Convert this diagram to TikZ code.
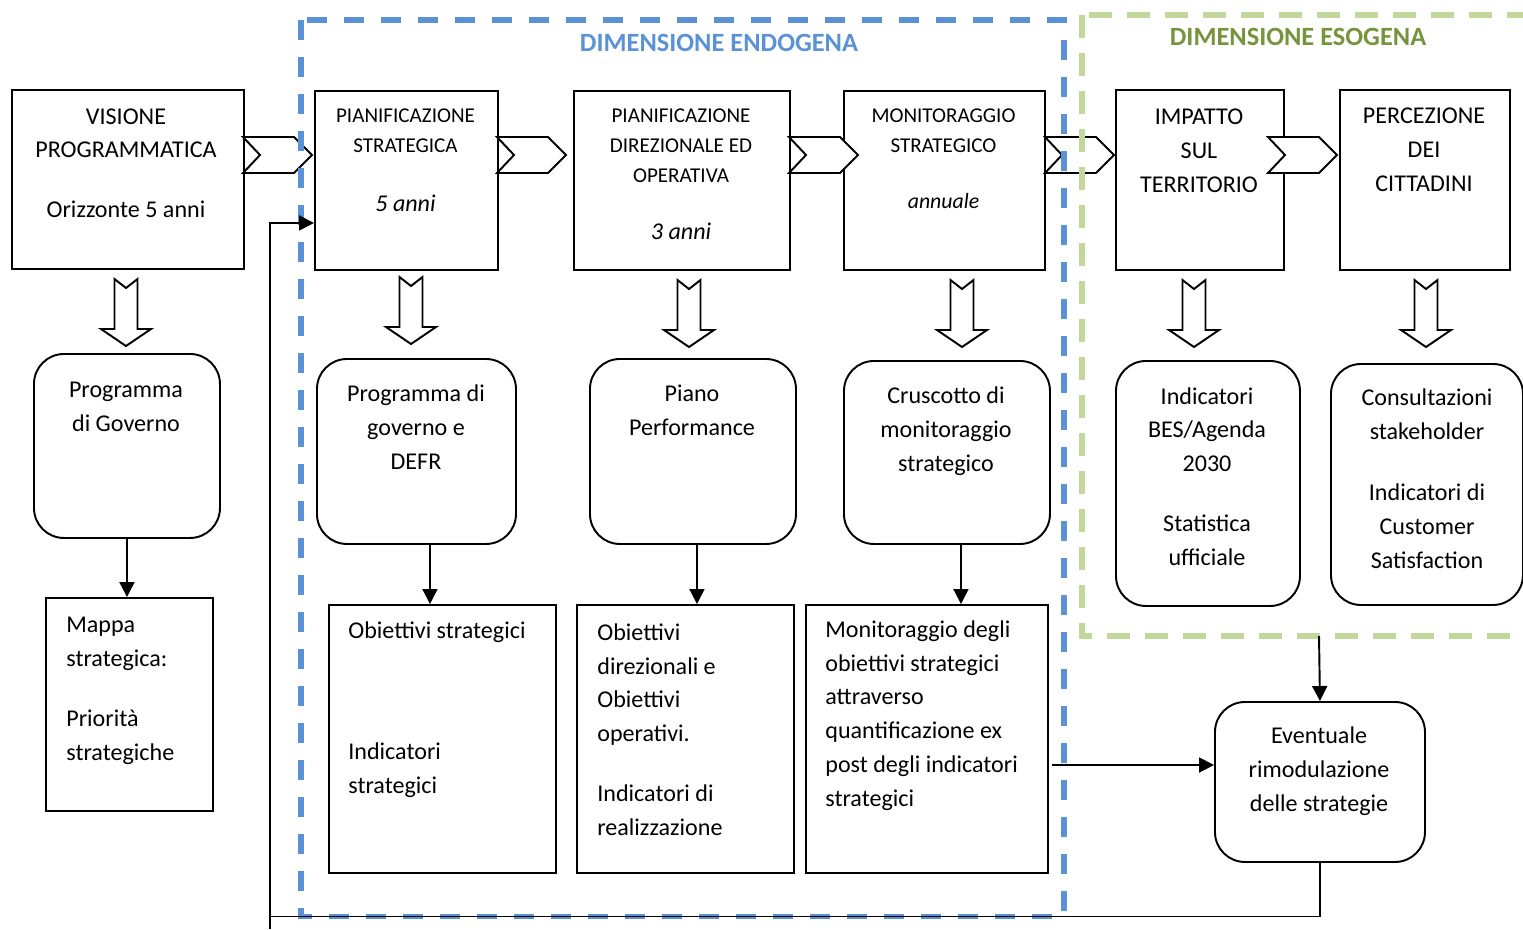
\documentclass[tikz,border=0pt]{standalone}
\usepackage{fontspec}
\setmainfont{Carlito}
\usetikzlibrary{positioning}
\usetikzlibrary{arrows.meta}

\definecolor{endoblue}{RGB}{91,146,214}
\definecolor{esogreen}{RGB}{195,214,155}
\definecolor{esotext}{RGB}{119,147,60}

\begin{document}
\begin{tikzpicture}
		[x=1cm, y=-1cm,
		box/.style={draw=black, line width=1.1pt, fill=white, anchor=north west, inner sep=0pt},
		rbox/.style={box, rounded corners=0.6cm},
		txt/.style={anchor=base, align=center, inner sep=0pt, font=\fontsize{13.7}{19.2}\selectfont},
		caps/.style={txt, font=\fontsize{12}{17}\selectfont},
		ltxt/.style={txt, anchor=base west, align=left},
		arr/.style={line width=1.1pt, -{Triangle[length=0.3cm, width=0.3cm]}},
		zone/.style={line width=2.9pt, dash pattern=on 0.4cm off 0.34cm},
		greenzone/.style={zone, dash pattern=on 0.46cm off 0.3cm},
		title/.style={anchor=base, inner sep=0pt, font=\fontsize{15}{18}\selectfont\bfseries},
		chevron/.pic={\draw[line width=1.1pt, fill=white] (0,-0.36) -- (1.02,-0.36) -- (1.38,0) -- (1.02,0.36) -- (0,0.36) -- (0.34,0) -- cycle;},
		hollowdown/.pic={\draw[line width=1.1pt, fill=white] (-0.23,0) -- (0,0.18) -- (0.23,0) -- (0.23,1.0) -- (0.5,1.0) -- (0,1.34) -- (-0.5,1.0) -- (-0.23,1.0) -- cycle;}]
		\useasboundingbox (0,0) rectangle (30.46,18.58);

		% top row
		\node[box, minimum width=4.64cm, minimum height=3.58cm] (visione) at (0.22,1.78) {};
		\node[box, minimum width=3.66cm, minimum height=3.58cm] (pstrat) at (6.28,1.80) {};
		\node[box, minimum width=4.32cm, minimum height=3.58cm] (pdir) at (11.46,1.80) {};
		\node[box, minimum width=4.02cm, minimum height=3.58cm] (mstrat) at (16.86,1.80) {};
		\node[box, minimum width=3.36cm, minimum height=3.60cm] (impatto) at (22.30,1.78) {};
		\node[box, minimum width=3.40cm, minimum height=3.60cm] (percez) at (26.78,1.78) {};

		% (base anchor = last line)
		\node[txt] (visionetxt) at (2.52,4.34) {VISIONE\\PROGRAMMATICA\\[14.4pt]Orizzonte 5 anni};
		\node[caps] (pstrattxt) at (8.11,4.22) {PIANIFICAZIONE\\STRATEGICA\\[16.5pt]{\fontsize{13.7}{19.2}\selectfont\itshape 5 anni}};
		\node[caps] (pdirtxt) at (13.62,4.78) {PIANIFICAZIONE\\DIREZIONALE ED\\OPERATIVA\\[15.4pt]{\fontsize{13.7}{19.2}\selectfont\itshape 3 anni}};
		\node[caps] (mstrattxt) at (18.87,4.16) {MONITORAGGIO\\STRATEGICO\\[14.8pt]{\fontsize{12.4}{17}\selectfont\itshape annuale}};
		\node[txt] (impattotxt) at (23.98,3.84) {IMPATTO\\SUL\\TERRITORIO};
		\node[txt] (perceztxt) at (28.48,3.82) {PERCEZIONE\\DEI\\CITTADINI};

		% second row
		\node[rbox, minimum width=3.72cm, minimum height=3.68cm] (progov) at (0.66,7.06) {};
		\node[rbox, minimum width=3.98cm, minimum height=3.70cm] (defr) at (6.32,7.16) {};
		\node[rbox, minimum width=4.12cm, minimum height=3.70cm] (piano) at (11.78,7.16) {};
		\node[rbox, minimum width=4.12cm, minimum height=3.66cm] (crusc) at (16.86,7.20) {};
		\node[rbox, minimum width=3.68cm, minimum height=4.90cm] (bes) at (22.30,7.20) {};
		\node[rbox, minimum width=3.84cm, minimum height=4.82cm] (consult) at (26.60,7.26) {};
		\node[rbox, minimum width=4.20cm, minimum height=3.20cm] (eventuale) at (24.28,14.02) {};

		\node[txt] (progovtxt) at (2.52,8.62) {Programma\\di Governo};
		\node[txt] (defrtxt) at (8.32,9.38) {Programma di\\governo e\\DEFR};
		\node[txt] (pianotxt) at (13.84,8.70) {Piano\\Performance};
		\node[txt] (crusctxt) at (18.92,9.42) {Cruscotto di\\monitoraggio\\strategico};
		\node[txt] (bestxt) at (24.14,11.30) {Indicatori\\BES/Agenda\\2030\\[14.8pt]Statistica\\ufficiale};
		\node[txt] (consulttxt) at (28.54,11.36) {Consultazioni\\stakeholder\\[15.4pt]Indicatori di\\Customer\\Satisfaction};
		\node[txt] (eventualetxt) at (26.38,16.22) {Eventuale\\rimodulazione\\delle strategie};

		% third row
		\node[box, minimum width=3.34cm, minimum height=4.26cm] (mappa) at (0.90,11.94) {};
		\node[box, minimum width=4.54cm, minimum height=5.36cm] (obstrat) at (6.56,12.08) {};
		\node[box, minimum width=4.34cm, minimum height=5.36cm] (obdir) at (11.52,12.08) {};
		\node[box, minimum width=4.84cm, minimum height=5.36cm] (monobj) at (16.10,12.08) {};

		\node[ltxt] (mappatxt) at (1.32,15.20) {Mappa\\strategica:\\[14.8pt]Priorità\\strategiche};
		\node[ltxt] (obstrattxt) at (6.96,15.86) {Obiettivi strategici\\[49.5pt]Indicatori\\strategici};
		\node[ltxt] (obdirtxt) at (11.94,16.70) {Obiettivi\\direzionali e\\Obiettivi\\operativi.\\[14.8pt]Indicatori di\\realizzazione};
		\node[ltxt] (monobjtxt) at (16.50,16.12) {Monitoraggio degli\\obiettivi strategici\\attraverso\\quantificazione ex\\post degli indicatori\\strategici};

		% chevrons and block arrows
		\pic at (4.86,3.10) {chevron};
		\pic at (9.94,3.10) {chevron};
		\pic at (15.78,3.10) {chevron};
		\pic at (20.90,3.10) {chevron};
		\pic at (25.36,3.10) {chevron};

		\pic at (2.52,5.58) {hollowdown};
		\pic at (8.22,5.54) {hollowdown};
		\pic at (13.78,5.60) {hollowdown};
		\pic at (19.24,5.60) {hollowdown};
		\pic at (23.88,5.60) {hollowdown};
		\pic at (28.52,5.60) {hollowdown};

		% dimensions
		\draw[zone, draw=endoblue] (6.02,0.40) rectangle (21.28,18.33);
		\draw[greenzone, draw=esogreen] (21.64,0.30) rectangle (30.80,12.72);
		\node[title, text=endoblue] (endo) at (14.38,1.02) {DIMENSIONE ENDOGENA};
		\node[title, text=esotext] (eso) at (25.96,0.90) {DIMENSIONE ESOGENA};

		% connectors
		\coordinate (esobottom) at (26.38,12.72);
		\coordinate (monout) at (21.04,15.30);
		\coordinate (loopcorner) at (5.40,18.33);
		\coordinate (loopfoot) at (5.40,18.58);

		\draw[arr] (progov.south) -- (progov.south |- mappa.north);
		\draw[arr] ([xshift=0.27cm]defr.south) -- ([xshift=0.27cm]defr.south |- obstrat.north);
		\draw[arr] ([xshift=0.08cm]piano.south) -- ([xshift=0.08cm]piano.south |- obdir.north);
		\draw[arr] ([xshift=0.28cm]crusc.south) -- ([xshift=0.28cm]crusc.south |- monobj.north);
		\draw[arr] (esobottom) -- (eventuale.north);
		\draw[arr] (monout) -- (monout -| eventuale.west);
		\draw[line width=1.1pt] (eventuale.south) |- (loopcorner);
		\draw[arr] (loopfoot) |- ([yshift=-0.85cm]pstrat.west);
	\end{tikzpicture}
\end{document}
